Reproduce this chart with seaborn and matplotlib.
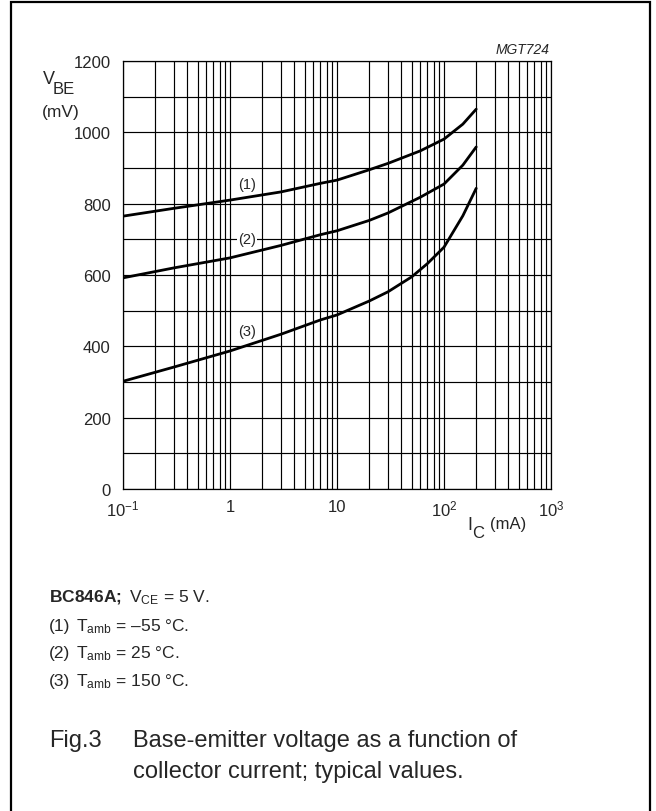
import numpy as np
import pandas as pd
import matplotlib
matplotlib.use("Agg")
import matplotlib.pyplot as plt
import matplotlib.patches as patches
import seaborn as sns

# ---- data ----
ic_1 = [0.1, 0.3, 1, 3, 7, 10, 20, 30, 60, 100, 150, 200]
vbe_1 = [765, 787, 810, 833, 857, 866, 895, 913, 948, 981, 1023, 1065]

ic_2 = [0.1, 0.3, 1, 3, 7, 10, 20, 30, 60, 100, 150, 200]
vbe_2 = [592, 620, 648, 683, 713, 724, 753, 774, 818, 855, 908, 959]

ic_3 = [0.1, 0.3, 1, 3, 7, 10, 20, 30, 50, 70, 100, 150, 200]
vbe_3 = [302, 342, 387, 434, 474, 488, 527, 553, 595, 632, 678, 766, 843]

curve_names = ["(1)", "(2)", "(3)"]
label_pos_x = [1.44, 1.44, 1.44]
label_pos_y = [855, 702, 443]

x_ticks = [0.1, 1, 10, 100, 1000]
x_ticklabels = [r"$10^{-1}$", "1", "10", r"$10^{2}$", r"$10^{3}$"]
y_ticks = [0, 200, 400, 600, 800, 1000, 1200]
y_ticklabels = ["0", "200", "400", "600", "800", "1000", "1200"]

df = pd.concat([
    pd.DataFrame({"ic": ic_1, "vbe": vbe_1, "curve": curve_names[0]}),
    pd.DataFrame({"ic": ic_2, "vbe": vbe_2, "curve": curve_names[1]}),
    pd.DataFrame({"ic": ic_3, "vbe": vbe_3, "curve": curve_names[2]}),
], ignore_index=True)

sns.set_theme(style="white")
plt.rcParams["font.family"] = ["Liberation Sans", "DejaVu Sans"]
plt.rcParams["mathtext.fontset"] = "custom"
plt.rcParams["mathtext.rm"] = "Liberation Sans"
plt.rcParams["mathtext.it"] = "Liberation Sans:italic"
plt.rcParams["mathtext.bf"] = "Liberation Sans:bold"

W, H = 656, 812
fig = plt.figure(figsize=(W / 100, H / 100), dpi=100)

def fx(px):
    return px / W

def fy(py):
    return 1 - py / H

left, right, top, bottom = 123, 551, 62, 490
ax = fig.add_axes([fx(left), fy(bottom), (right - left) / W, (bottom - top) / H])

sns.lineplot(data=df, x="ic", y="vbe", hue="curve", palette=["black"] * 3,
             linewidth=2.0, legend=False, ax=ax, sort=True, estimator=None)

ax.set_xscale("log")
ax.set_xlim(0.1, 1000)
ax.set_ylim(0, 1200)
ax.set_xticks(x_ticks)
ax.set_xticklabels(x_ticklabels)
ax.set_yticks(y_ticks)
ax.set_yticklabels(y_ticklabels)
ax.set_yticks(np.arange(0, 1201, 100), minor=True)
ax.xaxis.set_minor_locator(matplotlib.ticker.LogLocator(base=10, subs=np.arange(2, 10)))
ax.xaxis.set_minor_formatter(matplotlib.ticker.NullFormatter())
ax.grid(which="both", color="black", linewidth=0.85)
ax.set_axisbelow(True)
ax.tick_params(which="both", length=0)
ax.tick_params(axis="y", pad=9, labelsize=12)
ax.tick_params(axis="x", pad=7, labelsize=12)
for s in ax.spines.values():
    s.set_color("black")
    s.set_linewidth(0.9)
ax.set_xlabel("")
ax.set_ylabel("")

for name, lx, ly in zip(curve_names, label_pos_x, label_pos_y):
    ax.text(lx, ly, name, ha="center", va="center", fontsize=10.5,
            bbox=dict(facecolor="white", edgecolor="none", pad=1.0), zorder=5)

# axis titles
fig.text(fx(43), fy(80), "V", fontsize=13, ha="left", va="center")
fig.text(fx(53), fy(89), "BE", fontsize=12, ha="left", va="center")
fig.text(fx(42), fy(112), "(mV)", fontsize=12.5, ha="left", va="center")
fig.text(fx(550), fy(50), "MGT724", fontsize=10, style="italic", ha="right", va="center")
fig.text(fx(467), fy(525), "I", fontsize=13, ha="left", va="center")
fig.text(fx(472), fy(533), "C", fontsize=12, ha="left", va="center")
fig.text(fx(490), fy(525), "(mA)", fontsize=12, ha="left", va="center")

# legend block
fs_leg = 12.5
fig.text(fx(49), fy(598), r"$\mathbf{BC846A;}$ V$_{\mathrm{CE}}$ = 5 V.", fontsize=fs_leg,
         ha="left", va="center")
temps = ["\u201355 \u00b0C.", "25 \u00b0C.", "150 \u00b0C."]
rows_y = [627, 654, 682]
for name, t, yy in zip(curve_names, temps, rows_y):
    fig.text(fx(49), fy(yy), name, fontsize=fs_leg, ha="left", va="center")
    fig.text(fx(76), fy(yy), r"T$_{\mathrm{amb}}$ = " + t, fontsize=fs_leg, ha="left", va="center")

# caption
fs_cap = 17
fig.text(fx(49), fy(741), "Fig.3", fontsize=fs_cap, ha="left", va="center")
fig.text(fx(133), fy(741), "Base-emitter voltage as a function of", fontsize=fs_cap,
         ha="left", va="center")
fig.text(fx(133), fy(772), "collector current; typical values.", fontsize=fs_cap,
         ha="left", va="center")

# border frame
fig.patches.append(patches.Rectangle((fx(11), fy(820)), (650 - 11) / W, (820 - 3) / H,
                                     transform=fig.transFigure, fill=False,
                                     edgecolor="black", linewidth=1.6))

fig.savefig("out.png", dpi=100)
